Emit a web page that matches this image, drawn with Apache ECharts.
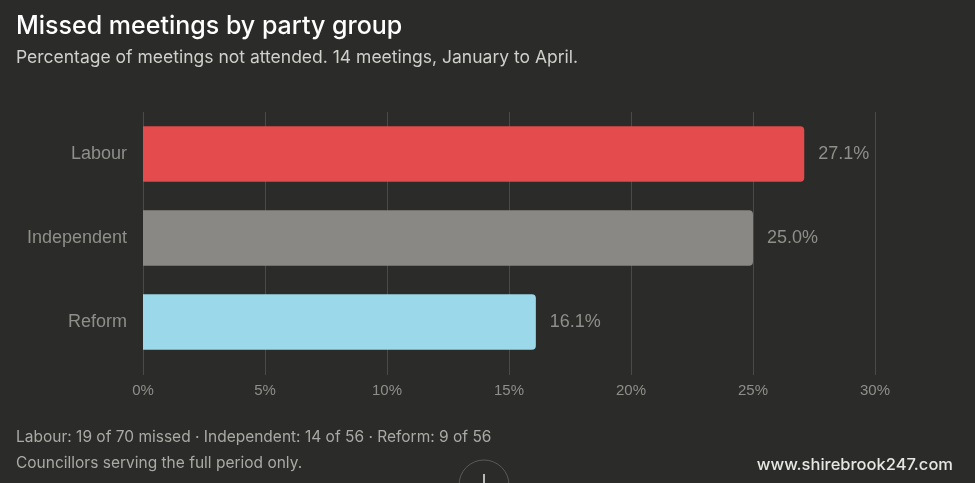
<!DOCTYPE html>
<html>
<head>
<meta charset="utf-8">
<script src="https://cdn.jsdelivr.net/npm/echarts@6/dist/echarts.min.js"></script>
<style>
  html, body { margin: 0; padding: 0; background: #2b2b29; }
  #chart { width: 975px; height: 483px; }
</style>
</head>
<body>
<div id="chart"></div>
<script>
// 数据
var parties = ['Labour', 'Independent', 'Reform'];
var missedPct = [27.1, 25.0, 16.1];
var barColors = ['#e34b4c', '#8a8884', '#9bd9ea'];
var xTicks = [0, 5, 10, 15, 20, 25, 30];

var titleText = 'Missed meetings by party group';
var subText = 'Percentage of meetings not attended. 14 meetings, January to April.';
var noteLine1 = 'Labour: 19 of 70 missed \u00b7 Independent: 14 of 56 \u00b7 Reform: 9 of 56';
var noteLine2 = 'Councillors serving the full period only.';
var siteText = 'www.shirebrook247.com';

var labelColor = '#8e8e8a';

var chart = echarts.init(document.getElementById('chart'));

var barData = [];
for (var i = 0; i < parties.length; i++) {
    barData.push({
        value: missedPct[i],
        itemStyle: { color: barColors[i] }
    });
}

var option = {
    backgroundColor: '#2b2b29',
    animation: false,
    title: [{
        text: titleText,
        left: 11,
        top: 9,
        textStyle: { color: '#ffffff', fontSize: 25, fontWeight: 500, fontFamily: 'Inter' }
    }, {
        text: subText,
        left: 11,
        top: 44,
        textStyle: { color: '#cfcfcb', fontSize: 17.5, fontWeight: 'normal', fontFamily: 'Inter' }
    }],
    // grid 0: 柱状图; grid 1: 网格线和X轴刻度（网格线比柱区域更长）
    grid: [{
        left: 143,
        right: 100,
        top: 112,
        bottom: 119
    }, {
        left: 143,
        right: 100,
        top: 112,
        bottom: 108
    }],
    xAxis: [{
        gridIndex: 0,
        type: 'value',
        min: 0,
        max: 30,
        interval: 5,
        axisLine: { show: false },
        axisTick: { show: false },
        splitLine: { show: false },
        axisLabel: { show: false }
    }, {
        gridIndex: 1,
        type: 'value',
        min: 0,
        max: 30,
        interval: 5,
        axisLine: { show: false },
        axisTick: { show: false },
        splitLine: { show: true, lineStyle: { color: '#4a4a47', width: 1 } },
        axisLabel: {
            color: labelColor,
            fontSize: 15,
            fontFamily: 'Liberation Sans',
            margin: 8,
            formatter: function (v) {
                return xTicks.indexOf(v) >= 0 ? v + '%' : '';
            }
        }
    }],
    yAxis: [{
        gridIndex: 0,
        type: 'category',
        data: parties,
        inverse: true,
        axisLine: { show: false },
        axisTick: { show: false },
        splitLine: { show: false },
        axisLabel: {
            color: labelColor,
            fontSize: 18,
            fontFamily: 'Liberation Sans',
            margin: 16
        }
    }, {
        gridIndex: 1,
        type: 'value',
        min: 0,
        max: 1,
        show: false
    }],
    series: [{
        type: 'bar',
        xAxisIndex: 0,
        yAxisIndex: 0,
        z: 3,
        data: barData,
        barWidth: '66%',
        itemStyle: { borderRadius: [0, 4, 4, 0] },
        label: {
            show: true,
            position: 'right',
            distance: 14,
            color: labelColor,
            fontSize: 18,
            fontFamily: 'Liberation Sans',
            formatter: function (p) {
                return p.value.toFixed(1) + '%';
            }
        }
    }],
    graphic: [{
        type: 'text',
        left: 16,
        top: 429,
        style: { text: noteLine1, fill: '#a9a9a5', fontSize: 15.5, fontFamily: 'Inter' }
    }, {
        type: 'text',
        left: 16,
        top: 455,
        style: { text: noteLine2, fill: '#a9a9a5', fontSize: 15.5, fontFamily: 'Inter' }
    }, {
        type: 'text',
        right: 22,
        top: 457,
        style: { text: siteText, fill: '#e6e6e2', fontSize: 16.5, fontWeight: 500, fontFamily: 'Inter' }
    }, {
        type: 'circle',
        shape: { cx: 484, cy: 485, r: 25 },
        style: { fill: 'transparent', stroke: '#5a5a57', lineWidth: 1 }
    }, {
        type: 'line',
        shape: { x1: 484, y1: 474, x2: 484, y2: 483 },
        style: { stroke: '#e8e8e8', lineWidth: 1.5 }
    }]
};

chart.setOption(option);
</script>
</body>
</html>
